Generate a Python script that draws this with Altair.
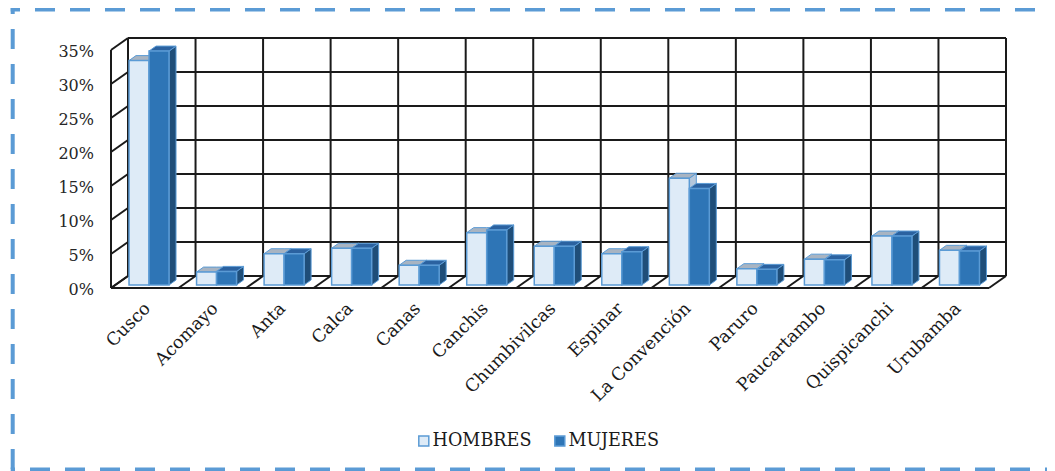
import altair as alt
import pandas as pd

# ---------------- data ----------------
categories = ["Cusco", "Acomayo", "Anta", "Calca", "Canas", "Canchis", "Chumbivilcas",
              "Espinar", "La Convención", "Paruro", "Paucartambo", "Quispicanchi", "Urubamba"]
hombres = [33.0, 1.9, 4.6, 5.4, 2.9, 7.7, 5.7, 4.6, 15.7, 2.4, 3.8, 7.2, 5.1]
mujeres = [34.4, 2.0, 4.6, 5.4, 2.9, 8.1, 5.7, 4.9, 14.2, 2.3, 3.7, 7.2, 5.0]
series = ["HOMBRES", "MUJERES"]
y_ticks = [0, 5, 10, 15, 20, 25, 30, 35]

# ---------------- style / 3-D geometry (pixels) ----------------
FONT = "DejaVu Serif"
CAT_PX, PCT_PX = 67.54, 6.8        # px per category, px per percentage point
WALL_DX, WALL_DY = 17, 12          # depth of the walls / floor
BAR_SX, BAR_SY = 12.75, 9          # bar front-face shift from back wall
BAR_W = 20                         # width of one bar
BAR_DX, BAR_DY = 7, 5              # depth of a bar
FRONT = ["#DEEBF7", "#2E75B6"]
SIDE = ["#B4C7DC", "#1F4E79"]
TOP = ["#A8B4C2", "#2B62A0"]
EDGE = "#5B9BD5"
GRID = "#1a1a1a"
FRAME = "#5B9BD5"

n = len(categories)
ymax = y_ticks[-1]
wx, wy = WALL_DX / CAT_PX, WALL_DY / PCT_PX
bsx, bsy = BAR_SX / CAT_PX, BAR_SY / PCT_PX
bw = BAR_W / CAT_PX
bdx, bdy = BAR_DX / CAT_PX, BAR_DY / PCT_PX

W = round((n + wx) * CAT_PX)
H = round((ymax + wy) * PCT_PX)
xs = alt.Scale(domain=[-wx, n], nice=False, zero=False)
ys = alt.Scale(domain=[-wy, ymax], nice=False, zero=False)

# ---------------- walls & grid segments ----------------
segs = []
for v in y_ticks:
    segs.append(dict(x0=0, y0=v, x1=n, y1=v))                 # back wall
    segs.append(dict(x0=-wx, y0=v - wy, x1=0, y1=v))          # side wall
for k in range(n + 1):
    segs.append(dict(x0=k, y0=0, x1=k, y1=ymax))              # back wall verticals
    segs.append(dict(x0=k - wx, y0=-wy, x1=k, y1=0))          # floor diagonals
segs.append(dict(x0=-wx, y0=-wy, x1=-wx, y1=ymax - wy))       # front left edge
segs.append(dict(x0=-wx, y0=-wy, x1=n - wx, y1=-wy))          # floor front edge
seg_df = pd.DataFrame(segs)

grid = alt.Chart(seg_df).mark_rule(color=GRID, strokeWidth=2).encode(
    x=alt.X("x0:Q", scale=xs, axis=None),
    y=alt.Y("y0:Q", scale=ys, axis=None),
    x2="x1:Q", y2="y1:Q")

# ---------------- bars ----------------
front_rows, side_rows, top_rows = [], [], []
for i, cat in enumerate(categories):
    for j, (s, vals) in enumerate(zip(series, [hombres, mujeres])):
        val = vals[i]
        cx = i + 0.5 - bsx
        xl = cx - bw + j * bw
        xr = xl + bw
        y0 = -bsy
        yt = val - bsy
        bid = f"{i}-{j}"
        front_rows.append(dict(cat=cat, serie=s, xl=xl, xr=xr, y0=y0, yt=yt))
        side_rows += [dict(bar=bid, j=j, fc=SIDE[j], x=xr, y=yt, y2=y0),
                      dict(bar=bid, j=j, fc=SIDE[j], x=xr + bdx, y=yt + bdy, y2=y0 + bdy)]
        top_rows += [dict(bar=bid, j=j, fc=TOP[j], x=xl, y=yt, y2=yt),
                     dict(bar=bid, j=j, fc=TOP[j], x=xl + bdx, y=yt + bdy, y2=yt),
                     dict(bar=bid, j=j, fc=TOP[j], x=xr, y=yt + bdy, y2=yt),
                     dict(bar=bid, j=j, fc=TOP[j], x=xr + bdx, y=yt + bdy, y2=yt + bdy)]
front_df = pd.DataFrame(front_rows)
side_df = pd.DataFrame(side_rows)
top_df = pd.DataFrame(top_rows)


def face(df, j):
    return alt.Chart(df[df["j"] == j]).mark_area(
        stroke=EDGE, strokeWidth=1, opacity=1, interpolate="linear").encode(
        x=alt.X("x:Q", scale=xs, axis=None),
        y=alt.Y("y:Q", scale=ys, axis=None),
        y2="y2:Q",
        detail="bar:N",
        fill=alt.Fill("fc:N", scale=None))


fronts = alt.Chart(front_df).mark_rect(stroke=EDGE, strokeWidth=1.5).encode(
    x=alt.X("xl:Q", scale=xs, axis=None), x2="xr:Q",
    y=alt.Y("y0:Q", scale=ys, axis=None), y2="yt:Q",
    color=alt.Color("serie:N", scale=alt.Scale(domain=series, range=FRONT),
                    legend=alt.Legend(title=None, orient="none", direction="horizontal",
                                      legendX=304, legendY=394, symbolType="square",
                                      symbolSize=100, symbolStrokeColor=EDGE,
                                      symbolStrokeWidth=1.5, labelFont=FONT,
                                      labelFontSize=17.6, labelColor="#1a1a1a",
                                      labelOffset=0, columnPadding=19, padding=0)))

# ---------------- axis labels ----------------
ylab_df = pd.DataFrame({"v": y_ticks, "lab": [f"{v}%" for v in y_ticks],
                        "x": [-wx] * len(y_ticks), "y": [v - wy for v in y_ticks]})
ylabels = alt.Chart(ylab_df).mark_text(align="right", baseline="middle", dx=-17, dy=2,
                                       font=FONT, fontSize=16, color="#262626").encode(
    x=alt.X("x:Q", scale=xs, axis=None), y=alt.Y("y:Q", scale=ys, axis=None), text="lab:N")

xlab_df = pd.DataFrame({"cat": categories,
                        "x": [i + 0.5 - wx + 3 / CAT_PX for i in range(n)],
                        "y": [-wy - 18 / PCT_PX] * n})
xlabels = alt.Chart(xlab_df).mark_text(align="right", baseline="middle", angle=315,
                                       font=FONT, fontSize=17.5, color="#1a1a1a").encode(
    x=alt.X("x:Q", scale=xs, axis=None), y=alt.Y("y:Q", scale=ys, axis=None), text="cat:N")

# ---------------- dashed frame (top, left, bottom; right edge lies off-page) ----------------
one = pd.DataFrame({"a": [0]})
FL, FT, FB, FR = -98.3, -28.5, 431.5, 1200


def frame_rule(offset, **enc):
    return alt.Chart(one).mark_rule(color=FRAME, strokeWidth=4, strokeDash=[20, 15],
                                    strokeDashOffset=offset, strokeCap="butt").encode(**enc)


frame = alt.layer(
    frame_rule(10.7, x=alt.value(FL - 2), x2=alt.value(FR), y=alt.value(FT)),
    frame_rule(13.5, x=alt.value(FL), y=alt.value(FT - 2), y2=alt.value(FB + 2)),
    frame_rule(15.7, x=alt.value(FL - 2), x2=alt.value(FR), y=alt.value(FB)),
)

chart = alt.layer(
    frame, grid,
    face(side_df, 0), face(top_df, 0), face(side_df, 1), face(top_df, 1),
    fronts, ylabels, xlabels
).properties(
    width=W, height=H, background="white",
    autosize=alt.AutoSizeParams(type="none"),
    padding={"left": 103, "top": 30, "right": 41, "bottom": 183},
).configure_view(stroke=None)

chart.save("out.html", embed_options={"renderer": "svg", "actions": False})
